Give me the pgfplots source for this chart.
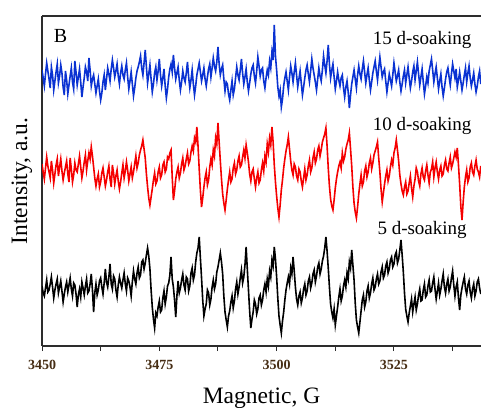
\documentclass[border=0pt]{standalone}
\usepackage{pgfplots}
\pgfplotsset{compat=1.18}
\usepackage{fontspec}
\setmainfont{Liberation Serif}
\definecolor{tracetblue}{RGB}{10,50,210}
\definecolor{tracered}{RGB}{245,0,0}
\definecolor{ticklab}{RGB}{70,45,20}
\definecolor{frame}{RGB}{45,45,45}
\begin{document}
\begin{tikzpicture}
\path[use as bounding box] (0,0) rectangle (481bp,408bp);
\begin{axis}[
  at={(42bp,62bp)}, anchor=south west,
  scale only axis, width=439bp, height=330bp,
  xmin=3450, xmax=3543.55, ymin=62, ymax=392,
  axis x line=box, axis y line=left,
  axis line style={frame, line width=1.2bp, -},
  xtick={3450,3475,3500,3525},
  minor xtick={3462.5,3487.5,3512.5,3537.5},
  ytick=\empty,
  tick align=outside,
  xtick pos=bottom,
  major tick length=5bp, minor tick length=5bp,
  tick style={frame, line width=1bp},
  /pgf/number format/assume math mode=true,
  /pgf/number format/1000 sep={},
  xticklabel style={font=\fontsize{14bp}{16bp}\selectfont\bfseries, text=ticklab, inner sep=1bp, yshift=-8bp},
  xlabel={Magnetic, G},
  ylabel={Intensity, a.u.},
  every axis x label/.style={at={(axis description cs:0.5,-0.158)}, anchor=center, font=\fontsize{23.5bp}{28bp}\selectfont},
  every axis y label/.style={at={(axis description cs:-0.0456,0.5)}, rotate=90, anchor=center, font=\fontsize{23.5bp}{28bp}\selectfont},
  clip=true,
]
% 5 d-soaking (black)
\addplot[black, line width=1.6bp] table {
3450.0 122
3450.25 115
3450.5 112
3450.75 120
3451.0 128
3451.25 116
3451.5 118
3451.75 124
3452.0 131
3452.25 121
3452.5 110
3452.75 118
3453.0 124
3453.25 129
3453.5 115
3453.75 121
3454.0 127
3454.25 117
3454.5 106
3454.75 114
3455.0 121
3455.25 126
3455.5 116
3455.75 123
3456.0 130
3456.25 119
3456.5 112
3456.75 125
3457.0 123
3457.25 114
3457.5 101
3457.75 113
3458.0 119
3458.25 111
3458.5 126
3458.75 120
3459.0 113
3459.25 122
3459.5 129
3459.75 115
3460.0 117
3460.25 124
3460.5 134
3460.75 118
3461.0 96
3461.25 115
3461.5 124
3461.75 113
3462.0 118
3462.25 127
3462.5 130
3462.75 121
3463.0 114
3463.25 125
3463.5 139
3463.75 126
3464.0 121
3464.25 131
3464.5 144
3464.75 124
3465.0 119
3465.25 132
3465.5 129
3465.75 118
3466.0 111
3466.25 123
3466.5 131
3466.75 125
3467.0 120
3467.25 128
3467.5 135
3467.75 124
3468.0 117
3468.25 130
3468.5 127
3468.75 121
3469.0 112
3469.25 126
3469.5 137
3469.75 129
3470.0 124
3470.25 135
3470.5 141
3470.75 130
3471.0 133
3471.25 146
3471.5 148
3471.75 139
3472.0 145
3472.25 153
3472.5 160
3472.75 152
3473.0 139
3473.25 118
3473.5 101
3473.75 89
3474.0 80
3474.25 95
3474.5 92
3474.75 101
3475.0 107
3475.25 96
3475.5 98
3475.75 110
3476.0 117
3476.25 104
3476.5 111
3476.75 122
3477.0 125
3477.25 133
3477.5 151
3477.75 129
3478.0 121
3478.25 108
3478.5 91
3478.75 112
3479.0 127
3479.25 115
3479.5 120
3479.75 128
3480.0 134
3480.25 123
3480.5 118
3480.75 131
3481.0 129
3481.25 117
3481.5 122
3481.75 135
3482.0 140
3482.25 128
3482.5 133
3482.75 146
3483.0 155
3483.25 160
3483.5 171
3483.75 150
3484.0 130
3484.25 108
3484.5 92
3484.75 99
3485.0 104
3485.25 118
3485.5 115
3485.75 103
3486.0 109
3486.25 121
3486.5 128
3486.75 119
3487.0 124
3487.25 136
3487.5 141
3487.75 148
3488.0 155
3488.25 146
3488.5 134
3488.75 112
3489.0 96
3489.25 88
3489.5 81
3489.75 92
3490.0 97
3490.25 106
3490.5 112
3490.75 100
3491.0 107
3491.25 119
3491.5 126
3491.75 114
3492.0 121
3492.25 130
3492.5 138
3492.75 125
3493.0 131
3493.25 143
3493.5 161
3493.75 139
3494.0 118
3494.25 97
3494.5 80
3494.75 89
3495.0 96
3495.25 108
3495.5 104
3495.75 94
3496.0 99
3496.25 110
3496.5 113
3496.75 103
3497.0 108
3497.25 118
3497.5 124
3497.75 116
3498.0 129
3498.25 122
3498.5 137
3498.75 131
3499.0 148
3499.25 142
3499.5 161
3499.75 149
3500.0 131
3500.25 110
3500.5 92
3500.75 83
3501.0 75
3501.25 87
3501.5 96
3501.75 108
3502.0 118
3502.25 125
3502.5 131
3502.75 124
3503.0 140
3503.25 134
3503.5 151
3503.75 137
3504.0 121
3504.25 109
3504.5 103
3504.75 112
3505.0 116
3505.25 105
3505.5 110
3505.75 119
3506.0 124
3506.25 113
3506.5 117
3506.75 127
3507.0 131
3507.25 120
3507.5 125
3507.75 134
3508.0 138
3508.25 126
3508.5 132
3508.75 141
3509.0 145
3509.25 134
3509.5 139
3509.75 147
3510.0 152
3510.25 160
3510.5 171
3510.75 157
3511.0 140
3511.25 121
3511.5 104
3511.75 96
3512.0 90
3512.25 99
3512.5 83
3512.75 92
3513.0 101
3513.25 111
3513.5 119
3513.75 107
3514.0 112
3514.25 122
3514.5 128
3514.75 121
3515.0 135
3515.25 129
3515.5 146
3515.75 140
3516.0 158
3516.25 143
3516.5 128
3516.75 105
3517.0 88
3517.25 81
3517.5 75
3517.75 86
3518.0 97
3518.25 108
3518.5 113
3518.75 101
3519.0 106
3519.25 117
3519.5 122
3519.75 110
3520.0 115
3520.25 124
3520.5 130
3520.75 118
3521.0 121
3521.25 129
3521.5 134
3521.75 124
3522.0 127
3522.25 136
3522.5 141
3522.75 130
3523.0 133
3523.25 142
3523.5 146
3523.75 135
3524.0 139
3524.25 148
3524.5 151
3524.75 141
3525.0 144
3525.25 153
3525.5 156
3525.75 145
3526.0 149
3526.25 158
3526.5 168
3526.75 153
3527.0 136
3527.25 115
3527.5 99
3527.75 92
3528.0 86
3528.25 95
3528.5 102
3528.75 109
3529.0 96
3529.25 104
3529.5 111
3529.75 98
3530.0 104
3530.25 113
3530.5 119
3530.75 107
3531.0 108
3531.25 118
3531.5 124
3531.75 111
3532.0 113
3532.25 122
3532.5 128
3532.75 116
3533.0 117
3533.25 125
3533.5 131
3533.75 119
3534.0 109
3534.25 117
3534.5 125
3534.75 113
3535.0 119
3535.25 127
3535.5 134
3535.75 121
3536.0 115
3536.25 124
3536.5 129
3536.75 117
3537.0 121
3537.25 130
3537.5 137
3537.75 123
3538.0 112
3538.25 121
3538.5 126
3538.75 110
3539.0 98
3539.25 113
3539.5 120
3539.75 126
3540.0 131
3540.25 119
3540.5 114
3540.75 123
3541.0 127
3541.25 116
3541.5 110
3541.75 119
3542.0 124
3542.25 112
3542.5 117
3542.75 126
3543.0 129
3543.25 120
3543.5 114
};
% 10 d-soaking (red)
\addplot[tracered, line width=1.6bp] table {
3450.0 244
3450.25 236
3450.5 229
3450.75 240
3451.0 251
3451.25 242
3451.5 236
3451.75 230
3452.0 247
3452.25 238
3452.5 225
3452.75 234
3453.0 243
3453.25 249
3453.5 232
3453.75 241
3454.0 249
3454.25 237
3454.5 228
3454.75 235
3455.0 241
3455.25 247
3455.5 234
3455.75 226
3456.0 250
3456.25 239
3456.5 226
3456.75 233
3457.0 245
3457.25 238
3457.5 236
3457.75 244
3458.0 252
3458.25 241
3458.5 230
3458.75 237
3459.0 246
3459.25 253
3459.5 238
3459.75 247
3460.0 255
3460.25 249
3460.5 261
3460.75 252
3461.0 241
3461.25 230
3461.5 222
3461.75 229
3462.0 234
3462.25 221
3462.5 226
3462.75 235
3463.0 240
3463.25 231
3463.5 222
3463.75 228
3464.0 236
3464.25 242
3464.5 229
3464.75 221
3465.0 243
3465.25 235
3465.5 224
3465.75 232
3466.0 238
3466.25 227
3466.5 219
3466.75 226
3467.0 235
3467.25 243
3467.5 230
3467.75 237
3468.0 246
3468.25 238
3468.5 227
3468.75 234
3469.0 241
3469.25 230
3469.5 236
3469.75 244
3470.0 252
3470.25 240
3470.5 245
3470.75 253
3471.0 258
3471.25 262
3471.5 268
3471.75 259
3472.0 250
3472.25 234
3472.5 221
3472.75 210
3473.0 203
3473.25 211
3473.5 219
3473.75 228
3474.0 235
3474.25 224
3474.5 227
3474.75 236
3475.0 241
3475.25 230
3475.5 233
3475.75 243
3476.0 246
3476.25 236
3476.5 239
3476.75 251
3477.0 249
3477.25 255
3477.5 258
3477.75 231
3478.0 208
3478.25 217
3478.5 229
3478.75 236
3479.0 241
3479.25 230
3479.5 235
3479.75 244
3480.0 250
3480.25 238
3480.5 242
3480.75 249
3481.0 255
3481.25 244
3481.5 247
3481.75 256
3482.0 262
3482.25 257
3482.5 270
3482.75 266
3483.0 281
3483.25 262
3483.5 239
3483.75 218
3484.0 201
3484.25 210
3484.5 221
3484.75 230
3485.0 236
3485.25 223
3485.5 228
3485.75 241
3486.0 249
3486.25 243
3486.5 258
3486.75 252
3487.0 270
3487.25 264
3487.5 285
3487.75 266
3488.0 247
3488.25 229
3488.5 214
3488.75 205
3489.0 198
3489.25 208
3489.5 219
3489.75 228
3490.0 236
3490.25 226
3490.5 229
3490.75 240
3491.0 245
3491.25 234
3491.5 238
3491.75 247
3492.0 252
3492.25 241
3492.5 243
3492.75 251
3493.0 258
3493.25 250
3493.5 263
3493.75 255
3494.0 246
3494.25 234
3494.5 227
3494.75 236
3495.0 239
3495.25 229
3495.5 221
3495.75 230
3496.0 236
3496.25 225
3496.5 228
3496.75 238
3497.0 245
3497.25 237
3497.5 252
3497.75 246
3498.0 264
3498.25 256
3498.5 270
3498.75 263
3499.0 281
3499.25 266
3499.5 243
3499.75 226
3500.0 212
3500.25 200
3500.5 191
3500.75 203
3501.0 218
3501.25 228
3501.5 240
3501.75 249
3502.0 257
3502.25 263
3502.5 271
3502.75 259
3503.0 247
3503.25 238
3503.5 233
3503.75 244
3504.0 241
3504.25 232
3504.5 228
3504.75 239
3505.0 236
3505.25 227
3505.5 221
3505.75 230
3506.0 239
3506.25 228
3506.5 233
3506.75 242
3507.0 248
3507.25 236
3507.5 240
3507.75 250
3508.0 256
3508.25 245
3508.5 249
3508.75 258
3509.0 262
3509.25 252
3509.5 258
3509.75 266
3510.0 270
3510.25 274
3510.5 280
3510.75 262
3511.0 240
3511.25 222
3511.5 209
3511.75 202
3512.0 198
3512.25 208
3512.5 220
3512.75 229
3513.0 236
3513.25 242
3513.5 246
3513.75 240
3514.0 255
3514.25 247
3514.5 251
3514.75 259
3515.0 264
3515.25 268
3515.5 275
3515.75 259
3516.0 242
3516.25 221
3516.5 205
3516.75 196
3517.0 190
3517.25 201
3517.5 214
3517.75 224
3518.0 233
3518.25 222
3518.5 226
3518.75 237
3519.0 242
3519.25 231
3519.5 236
3519.75 245
3520.0 250
3520.25 239
3520.5 245
3520.75 253
3521.0 257
3521.25 261
3521.5 266
3521.75 250
3522.0 236
3522.25 219
3522.5 206
3522.75 215
3523.0 224
3523.25 232
3523.5 238
3523.75 227
3524.0 232
3524.25 241
3524.5 248
3524.75 243
3525.0 255
3525.25 260
3525.5 268
3525.75 258
3526.0 247
3526.25 233
3526.5 224
3526.75 217
3527.0 213
3527.25 221
3527.5 226
3527.75 214
3528.0 217
3528.25 225
3528.5 232
3528.75 220
3529.0 211
3529.25 222
3529.5 229
3529.75 240
3530.0 236
3530.25 227
3530.5 222
3530.75 234
3531.0 240
3531.25 231
3531.5 228
3531.75 237
3532.0 243
3532.25 233
3532.5 225
3532.75 236
3533.0 239
3533.25 246
3533.5 231
3533.75 240
3534.0 246
3534.25 236
3534.5 229
3534.75 238
3535.0 242
3535.25 232
3535.5 234
3535.75 243
3536.0 248
3536.25 239
3536.5 237
3536.75 245
3537.0 251
3537.25 240
3537.5 244
3537.75 250
3538.0 256
3538.25 251
3538.5 260
3538.75 243
3539.0 224
3539.25 202
3539.5 188
3539.75 206
3540.0 221
3540.25 231
3540.5 238
3540.75 226
3541.0 230
3541.25 241
3541.5 245
3541.75 236
3542.0 233
3542.25 242
3542.5 248
3542.75 239
3543.0 236
3543.25 231
3543.5 242
};
% 15 d-soaking (blue)
\addplot[tracetblue, line width=1.6bp] table {
3450.0 338
3450.25 330
3450.5 322
3450.75 334
3451.0 345
3451.25 337
3451.5 329
3451.75 320
3452.0 341
3452.25 333
3452.5 318
3452.75 327
3453.0 336
3453.25 344
3453.5 325
3453.75 332
3454.0 343
3454.25 335
3454.5 321
3454.75 313
3455.0 337
3455.25 328
3455.5 314
3455.75 323
3456.0 332
3456.25 340
3456.5 326
3456.75 319
3457.0 347
3457.25 336
3457.5 323
3457.75 331
3458.0 339
3458.25 326
3458.5 311
3458.75 321
3459.0 330
3459.25 341
3459.5 336
3459.75 327
3460.0 350
3460.25 338
3460.5 322
3460.75 329
3461.0 333
3461.25 324
3461.5 315
3461.75 322
3462.0 329
3462.25 317
3462.5 308
3462.75 315
3463.0 326
3463.25 333
3463.5 318
3463.75 329
3464.0 340
3464.25 334
3464.5 327
3464.75 339
3465.0 348
3465.25 340
3465.5 331
3465.75 337
3466.0 344
3466.25 332
3466.5 324
3466.75 335
3467.0 342
3467.25 333
3467.5 329
3467.75 338
3468.0 345
3468.25 331
3468.5 319
3468.75 327
3469.0 336
3469.25 324
3469.5 312
3469.75 320
3470.0 330
3470.25 337
3470.5 341
3470.75 346
3471.0 352
3471.25 340
3471.5 333
3471.75 345
3472.0 358
3472.25 341
3472.5 325
3472.75 334
3473.0 343
3473.25 329
3473.5 316
3473.75 324
3474.0 335
3474.25 341
3474.5 328
3474.75 337
3475.0 349
3475.25 333
3475.5 322
3475.75 330
3476.0 339
3476.25 322
3476.5 310
3476.75 319
3477.0 331
3477.25 339
3477.5 344
3477.75 336
3478.0 353
3478.25 340
3478.5 329
3478.75 335
3479.0 341
3479.25 328
3479.5 318
3479.75 326
3480.0 337
3480.25 330
3480.5 326
3480.75 335
3481.0 346
3481.25 331
3481.5 320
3481.75 328
3482.0 338
3482.25 324
3482.5 313
3482.75 322
3483.0 333
3483.25 339
3483.5 345
3483.75 336
3484.0 327
3484.25 333
3484.5 340
3484.75 329
3485.0 322
3485.25 331
3485.5 339
3485.75 344
3486.0 331
3486.25 340
3486.5 350
3486.75 342
3487.0 337
3487.25 346
3487.5 361
3487.75 344
3488.0 333
3488.25 339
3488.5 343
3488.75 329
3489.0 317
3489.25 326
3489.5 324
3489.75 314
3490.0 308
3490.25 318
3490.5 327
3490.75 313
3491.0 319
3491.25 330
3491.5 341
3491.75 333
3492.0 328
3492.25 338
3492.5 349
3492.75 335
3493.0 324
3493.25 331
3493.5 339
3493.75 326
3494.0 317
3494.25 325
3494.5 334
3494.75 340
3495.0 343
3495.25 332
3495.5 325
3495.75 337
3496.0 351
3496.25 342
3496.5 332
3496.75 338
3497.0 340
3497.25 327
3497.5 320
3497.75 330
3498.0 338
3498.25 333
3498.5 347
3498.75 340
3499.0 356
3499.25 348
3499.5 383
3499.75 352
3500.0 338
3500.25 321
3500.5 312
3500.75 318
3501.0 301
3501.25 309
3501.5 322
3501.75 330
3502.0 336
3502.25 327
3502.5 318
3502.75 331
3503.0 342
3503.25 335
3503.5 326
3503.75 336
3504.0 345
3504.25 333
3504.5 321
3504.75 329
3505.0 337
3505.25 325
3505.5 313
3505.75 321
3506.0 330
3506.25 338
3506.5 343
3506.75 334
3507.0 326
3507.25 337
3507.5 349
3507.75 340
3508.0 333
3508.25 326
3508.5 318
3508.75 329
3509.0 340
3509.25 332
3509.5 327
3509.75 338
3510.0 352
3510.25 343
3510.5 335
3510.75 347
3511.0 363
3511.25 344
3511.5 330
3511.75 338
3512.0 344
3512.25 331
3512.5 319
3512.75 327
3513.0 336
3513.25 328
3513.5 322
3513.75 330
3514.0 333
3514.25 320
3514.5 311
3514.75 321
3515.0 327
3515.25 316
3515.5 300
3515.75 313
3516.0 324
3516.25 331
3516.5 338
3516.75 329
3517.0 320
3517.25 333
3517.5 342
3517.75 334
3518.0 329
3518.25 339
3518.5 347
3518.75 336
3519.0 325
3519.25 333
3519.5 340
3519.75 328
3520.0 318
3520.25 326
3520.5 335
3520.75 341
3521.0 347
3521.25 337
3521.5 328
3521.75 340
3522.0 351
3522.25 341
3522.5 331
3522.75 336
3523.0 339
3523.25 327
3523.5 316
3523.75 325
3524.0 334
3524.25 328
3524.5 322
3524.75 333
3525.0 345
3525.25 336
3525.5 327
3525.75 332
3526.0 338
3526.25 326
3526.5 317
3526.75 324
3527.0 332
3527.25 338
3527.5 325
3527.75 333
3528.0 341
3528.25 330
3528.5 320
3528.75 327
3529.0 336
3529.25 342
3529.5 328
3529.75 337
3530.0 346
3530.25 334
3530.5 323
3530.75 331
3531.0 339
3531.25 326
3531.5 314
3531.75 322
3532.0 331
3532.25 325
3532.5 337
3532.75 343
3533.0 349
3533.25 338
3533.5 326
3533.75 334
3534.0 341
3534.25 330
3534.5 319
3534.75 327
3535.0 334
3535.25 321
3535.5 312
3535.75 320
3536.0 329
3536.25 336
3536.5 340
3536.75 331
3537.0 323
3537.25 334
3537.5 344
3537.75 337
3538.0 330
3538.25 339
3538.5 321
3538.75 328
3539.0 336
3539.25 327
3539.5 318
3539.75 325
3540.0 333
3540.25 340
3540.5 326
3540.75 335
3541.0 342
3541.25 330
3541.5 322
3541.75 328
3542.0 335
3542.25 324
3542.5 316
3542.75 322
3543.0 331
3543.25 337
3543.5 324
};
\node[anchor=west, font=\fontsize{20bp}{23bp}\selectfont] at (axis cs:3451.8,372) {B};
\node[anchor=center, font=\fontsize{19bp}{22bp}\selectfont] at (axis cs:3531.0,368) {15 d-soaking};
\node[anchor=center, font=\fontsize{19bp}{22bp}\selectfont] at (axis cs:3531.0,282) {10 d-soaking};
\node[anchor=center, font=\fontsize{19bp}{22bp}\selectfont] at (axis cs:3531.0,178) {5 d-soaking};
\end{axis}
\end{tikzpicture}
\end{document}
